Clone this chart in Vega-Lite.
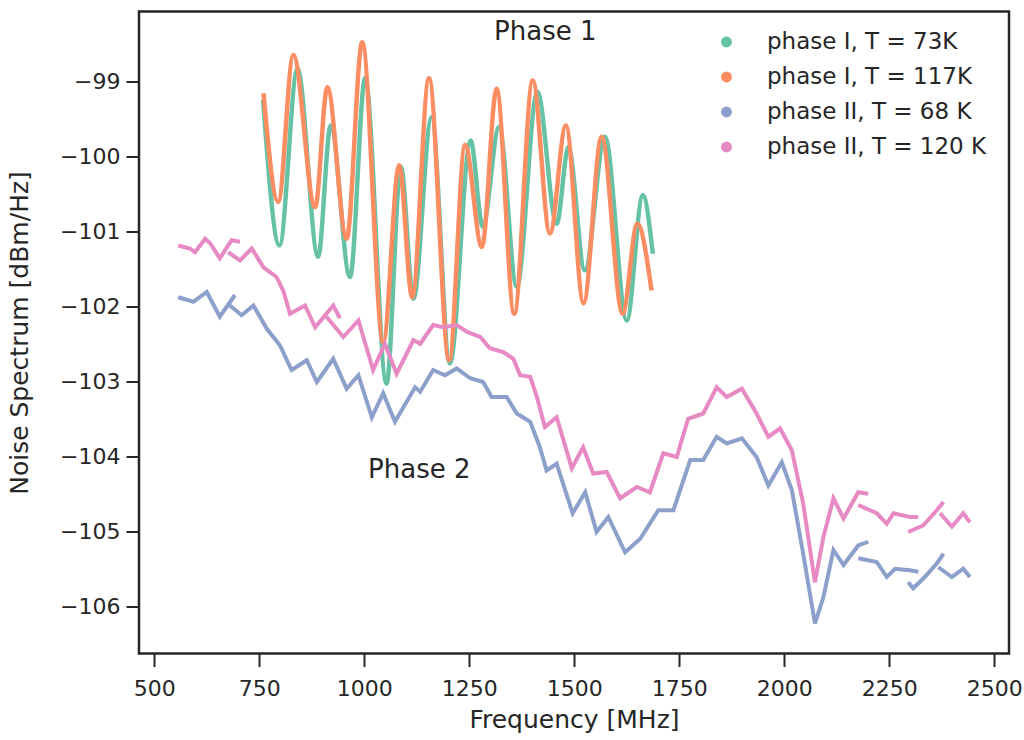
{
  "$schema": "https://vega.github.io/schema/vega-lite/v6.json",
  "width": 870,
  "height": 642,
  "autosize": {"type": "none"},
  "padding": {"left": 139, "top": 11.5, "right": 15, "bottom": 86.5},
  "background": "white",
  "config": {
    "font": "DejaVu Sans",
    "view": {"stroke": "#262626", "strokeWidth": 2.5},
    "axis": {
      "domain": false, "grid": false,
      "tickColor": "#262626", "tickWidth": 2, "tickSize": 13,
      "labelColor": "#262626", "labelFont": "DejaVu Sans", "labelFontSize": 22, "labelPadding": 6,
      "titleFont": "DejaVu Sans", "titleFontSize": 25, "titleFontWeight": "normal", "titleColor": "#262626"
    },
    "legend": {
      "orient": "none", "legendX": 576, "legendY": 19, "title": null, "padding": 0,
      "symbolType": "circle", "symbolSize": 120, "symbolStrokeWidth": 0, "symbolOpacity": 1,
      "labelFontSize": 23, "labelColor": "#262626", "labelFont": "DejaVu Sans", "labelOffset": 29, "labelLimit": 0, "rowPadding": 11
    }
  },
  "encoding": {
    "x": {"field": "freq", "type": "quantitative",
      "scale": {"domain": [463.6, 2535], "nice": false, "zero": false},
      "axis": {"values": [500, 750, 1000, 1250, 1500, 1750, 2000, 2250, 2500], "format": "d", "title": "Frequency [MHz]", "labelPadding": 12, "titlePadding": 8}},
    "y": {"field": "noise", "type": "quantitative",
      "scale": {"domain": [-106.63, -98.07], "nice": false, "zero": false},
      "axis": {"values": [-106, -105, -104, -103, -102, -101, -100, -99], "title": "Noise Spectrum [dBm/Hz]", "labelPadding": 6, "titlePadding": 27}}
  },
  "layer": [
    {
      "data": {"values": [
        {"series": "phase I, T = 73K", "seg": 0, "freq": 759, "noise": -99.25},
        {"series": "phase I, T = 73K", "seg": 0, "freq": 798, "noise": -101.19},
        {"series": "phase I, T = 73K", "seg": 0, "freq": 841, "noise": -98.83},
        {"series": "phase I, T = 73K", "seg": 0, "freq": 890, "noise": -101.34},
        {"series": "phase I, T = 73K", "seg": 0, "freq": 920, "noise": -99.59},
        {"series": "phase I, T = 73K", "seg": 0, "freq": 966, "noise": -101.61},
        {"series": "phase I, T = 73K", "seg": 0, "freq": 1002, "noise": -98.96},
        {"series": "phase I, T = 73K", "seg": 0, "freq": 1053, "noise": -103.03},
        {"series": "phase I, T = 73K", "seg": 0, "freq": 1087, "noise": -100.14},
        {"series": "phase I, T = 73K", "seg": 0, "freq": 1117, "noise": -101.9},
        {"series": "phase I, T = 73K", "seg": 0, "freq": 1160, "noise": -99.48},
        {"series": "phase I, T = 73K", "seg": 0, "freq": 1204, "noise": -102.76},
        {"series": "phase I, T = 73K", "seg": 0, "freq": 1253, "noise": -99.79},
        {"series": "phase I, T = 73K", "seg": 0, "freq": 1282, "noise": -100.94},
        {"series": "phase I, T = 73K", "seg": 0, "freq": 1321, "noise": -99.61},
        {"series": "phase I, T = 73K", "seg": 0, "freq": 1363, "noise": -101.74},
        {"series": "phase I, T = 73K", "seg": 0, "freq": 1412, "noise": -99.14},
        {"series": "phase I, T = 73K", "seg": 0, "freq": 1458, "noise": -100.9},
        {"series": "phase I, T = 73K", "seg": 0, "freq": 1486, "noise": -99.88},
        {"series": "phase I, T = 73K", "seg": 0, "freq": 1525, "noise": -101.52},
        {"series": "phase I, T = 73K", "seg": 0, "freq": 1573, "noise": -99.74},
        {"series": "phase I, T = 73K", "seg": 0, "freq": 1625, "noise": -102.19},
        {"series": "phase I, T = 73K", "seg": 0, "freq": 1663, "noise": -100.52},
        {"series": "phase I, T = 73K", "seg": 0, "freq": 1687, "noise": -101.3},
        {"series": "phase I, T = 117K", "seg": 0, "freq": 760, "noise": -99.16},
        {"series": "phase I, T = 117K", "seg": 0, "freq": 795, "noise": -100.61},
        {"series": "phase I, T = 117K", "seg": 0, "freq": 831, "noise": -98.65},
        {"series": "phase I, T = 117K", "seg": 0, "freq": 883, "noise": -100.68},
        {"series": "phase I, T = 117K", "seg": 0, "freq": 912, "noise": -99.08},
        {"series": "phase I, T = 117K", "seg": 0, "freq": 958, "noise": -101.1},
        {"series": "phase I, T = 117K", "seg": 0, "freq": 995, "noise": -98.48},
        {"series": "phase I, T = 117K", "seg": 0, "freq": 1045, "noise": -102.48},
        {"series": "phase I, T = 117K", "seg": 0, "freq": 1083, "noise": -100.12},
        {"series": "phase I, T = 117K", "seg": 0, "freq": 1114, "noise": -101.88},
        {"series": "phase I, T = 117K", "seg": 0, "freq": 1154, "noise": -98.96},
        {"series": "phase I, T = 117K", "seg": 0, "freq": 1202, "noise": -102.72},
        {"series": "phase I, T = 117K", "seg": 0, "freq": 1240, "noise": -99.85},
        {"series": "phase I, T = 117K", "seg": 0, "freq": 1280, "noise": -101.21},
        {"series": "phase I, T = 117K", "seg": 0, "freq": 1315, "noise": -99.1},
        {"series": "phase I, T = 117K", "seg": 0, "freq": 1357, "noise": -102.1},
        {"series": "phase I, T = 117K", "seg": 0, "freq": 1401, "noise": -98.99},
        {"series": "phase I, T = 117K", "seg": 0, "freq": 1442, "noise": -101.03},
        {"series": "phase I, T = 117K", "seg": 0, "freq": 1480, "noise": -99.59},
        {"series": "phase I, T = 117K", "seg": 0, "freq": 1522, "noise": -101.96},
        {"series": "phase I, T = 117K", "seg": 0, "freq": 1565, "noise": -99.74},
        {"series": "phase I, T = 117K", "seg": 0, "freq": 1615, "noise": -102.1},
        {"series": "phase I, T = 117K", "seg": 0, "freq": 1650, "noise": -100.9},
        {"series": "phase I, T = 117K", "seg": 0, "freq": 1684, "noise": -101.79}
      ]},
      "mark": {"type": "line", "interpolate": "monotone", "strokeWidth": 4.5},
      "encoding": {
        "stroke": {"field": "series", "type": "nominal",
          "scale": {"domain": ["phase I, T = 73K", "phase I, T = 117K", "phase II, T = 68 K", "phase II, T = 120 K"], "range": ["#66c2a5", "#fc8d62", "#8da0cb", "#e78ac3"]}},
        "detail": {"field": "seg", "type": "nominal"}
      }
    },
    {
      "data": {"values": [
        {"series": "phase II, T = 120 K", "seg": 1, "freq": 557, "noise": -101.19},
        {"series": "phase II, T = 120 K", "seg": 1, "freq": 585, "noise": -101.23},
        {"series": "phase II, T = 120 K", "seg": 1, "freq": 597, "noise": -101.28},
        {"series": "phase II, T = 120 K", "seg": 1, "freq": 621, "noise": -101.1},
        {"series": "phase II, T = 120 K", "seg": 1, "freq": 633, "noise": -101.16},
        {"series": "phase II, T = 120 K", "seg": 1, "freq": 656, "noise": -101.36},
        {"series": "phase II, T = 120 K", "seg": 1, "freq": 684, "noise": -101.12},
        {"series": "phase II, T = 120 K", "seg": 1, "freq": 704, "noise": -101.14},
        {"series": "phase II, T = 120 K", "seg": 2, "freq": 676, "noise": -101.28},
        {"series": "phase II, T = 120 K", "seg": 2, "freq": 704, "noise": -101.39},
        {"series": "phase II, T = 120 K", "seg": 2, "freq": 732, "noise": -101.23},
        {"series": "phase II, T = 120 K", "seg": 2, "freq": 760, "noise": -101.48},
        {"series": "phase II, T = 120 K", "seg": 2, "freq": 791, "noise": -101.61},
        {"series": "phase II, T = 120 K", "seg": 2, "freq": 807, "noise": -101.79},
        {"series": "phase II, T = 120 K", "seg": 2, "freq": 823, "noise": -102.1},
        {"series": "phase II, T = 120 K", "seg": 2, "freq": 859, "noise": -101.99},
        {"series": "phase II, T = 120 K", "seg": 2, "freq": 883, "noise": -102.28},
        {"series": "phase II, T = 120 K", "seg": 2, "freq": 926, "noise": -101.99},
        {"series": "phase II, T = 120 K", "seg": 2, "freq": 942, "noise": -102.16},
        {"series": "phase II, T = 120 K", "seg": 3, "freq": 910, "noise": -102.14},
        {"series": "phase II, T = 120 K", "seg": 3, "freq": 950, "noise": -102.41},
        {"series": "phase II, T = 120 K", "seg": 3, "freq": 986, "noise": -102.19},
        {"series": "phase II, T = 120 K", "seg": 3, "freq": 1021, "noise": -102.85},
        {"series": "phase II, T = 120 K", "seg": 3, "freq": 1049, "noise": -102.5},
        {"series": "phase II, T = 120 K", "seg": 3, "freq": 1077, "noise": -102.9},
        {"series": "phase II, T = 120 K", "seg": 3, "freq": 1117, "noise": -102.45},
        {"series": "phase II, T = 120 K", "seg": 3, "freq": 1133, "noise": -102.5},
        {"series": "phase II, T = 120 K", "seg": 3, "freq": 1164, "noise": -102.25},
        {"series": "phase II, T = 120 K", "seg": 3, "freq": 1188, "noise": -102.28},
        {"series": "phase II, T = 120 K", "seg": 3, "freq": 1220, "noise": -102.25},
        {"series": "phase II, T = 120 K", "seg": 3, "freq": 1244, "noise": -102.34},
        {"series": "phase II, T = 120 K", "seg": 3, "freq": 1276, "noise": -102.41},
        {"series": "phase II, T = 120 K", "seg": 3, "freq": 1299, "noise": -102.56},
        {"series": "phase II, T = 120 K", "seg": 3, "freq": 1331, "noise": -102.61},
        {"series": "phase II, T = 120 K", "seg": 3, "freq": 1355, "noise": -102.7},
        {"series": "phase II, T = 120 K", "seg": 3, "freq": 1371, "noise": -102.92},
        {"series": "phase II, T = 120 K", "seg": 3, "freq": 1395, "noise": -102.94},
        {"series": "phase II, T = 120 K", "seg": 3, "freq": 1411, "noise": -103.21},
        {"series": "phase II, T = 120 K", "seg": 3, "freq": 1430, "noise": -103.61},
        {"series": "phase II, T = 120 K", "seg": 3, "freq": 1458, "noise": -103.48},
        {"series": "phase II, T = 120 K", "seg": 3, "freq": 1494, "noise": -104.16},
        {"series": "phase II, T = 120 K", "seg": 3, "freq": 1521, "noise": -103.88},
        {"series": "phase II, T = 120 K", "seg": 3, "freq": 1545, "noise": -104.23},
        {"series": "phase II, T = 120 K", "seg": 3, "freq": 1577, "noise": -104.21},
        {"series": "phase II, T = 120 K", "seg": 3, "freq": 1609, "noise": -104.56},
        {"series": "phase II, T = 120 K", "seg": 3, "freq": 1649, "noise": -104.41},
        {"series": "phase II, T = 120 K", "seg": 3, "freq": 1680, "noise": -104.48},
        {"series": "phase II, T = 120 K", "seg": 3, "freq": 1712, "noise": -103.96},
        {"series": "phase II, T = 120 K", "seg": 3, "freq": 1744, "noise": -104.01},
        {"series": "phase II, T = 120 K", "seg": 3, "freq": 1771, "noise": -103.5},
        {"series": "phase II, T = 120 K", "seg": 3, "freq": 1807, "noise": -103.43},
        {"series": "phase II, T = 120 K", "seg": 3, "freq": 1839, "noise": -103.08},
        {"series": "phase II, T = 120 K", "seg": 3, "freq": 1863, "noise": -103.21},
        {"series": "phase II, T = 120 K", "seg": 3, "freq": 1899, "noise": -103.1},
        {"series": "phase II, T = 120 K", "seg": 3, "freq": 1934, "noise": -103.43},
        {"series": "phase II, T = 120 K", "seg": 3, "freq": 1962, "noise": -103.74},
        {"series": "phase II, T = 120 K", "seg": 3, "freq": 1990, "noise": -103.63},
        {"series": "phase II, T = 120 K", "seg": 3, "freq": 2018, "noise": -103.92},
        {"series": "phase II, T = 120 K", "seg": 3, "freq": 2045, "noise": -104.63},
        {"series": "phase II, T = 120 K", "seg": 3, "freq": 2073, "noise": -105.68},
        {"series": "phase II, T = 120 K", "seg": 3, "freq": 2093, "noise": -105.08},
        {"series": "phase II, T = 120 K", "seg": 3, "freq": 2117, "noise": -104.56},
        {"series": "phase II, T = 120 K", "seg": 3, "freq": 2141, "noise": -104.83},
        {"series": "phase II, T = 120 K", "seg": 3, "freq": 2176, "noise": -104.48},
        {"series": "phase II, T = 120 K", "seg": 3, "freq": 2200, "noise": -104.5},
        {"series": "phase II, T = 120 K", "seg": 4, "freq": 2176, "noise": -104.65},
        {"series": "phase II, T = 120 K", "seg": 4, "freq": 2220, "noise": -104.76},
        {"series": "phase II, T = 120 K", "seg": 4, "freq": 2244, "noise": -104.9},
        {"series": "phase II, T = 120 K", "seg": 4, "freq": 2260, "noise": -104.76},
        {"series": "phase II, T = 120 K", "seg": 4, "freq": 2299, "noise": -104.81},
        {"series": "phase II, T = 120 K", "seg": 4, "freq": 2319, "noise": -104.81},
        {"series": "phase II, T = 120 K", "seg": 5, "freq": 2295, "noise": -105.01},
        {"series": "phase II, T = 120 K", "seg": 5, "freq": 2331, "noise": -104.92},
        {"series": "phase II, T = 120 K", "seg": 5, "freq": 2363, "noise": -104.72},
        {"series": "phase II, T = 120 K", "seg": 5, "freq": 2379, "noise": -104.61},
        {"series": "phase II, T = 120 K", "seg": 6, "freq": 2371, "noise": -104.76},
        {"series": "phase II, T = 120 K", "seg": 6, "freq": 2399, "noise": -104.94},
        {"series": "phase II, T = 120 K", "seg": 6, "freq": 2426, "noise": -104.76},
        {"series": "phase II, T = 120 K", "seg": 6, "freq": 2442, "noise": -104.88},
        {"series": "phase II, T = 68 K", "seg": 11, "freq": 557, "noise": -101.88},
        {"series": "phase II, T = 68 K", "seg": 11, "freq": 593, "noise": -101.94},
        {"series": "phase II, T = 68 K", "seg": 11, "freq": 625, "noise": -101.81},
        {"series": "phase II, T = 68 K", "seg": 11, "freq": 656, "noise": -102.14},
        {"series": "phase II, T = 68 K", "seg": 11, "freq": 692, "noise": -101.85},
        {"series": "phase II, T = 68 K", "seg": 12, "freq": 680, "noise": -101.99},
        {"series": "phase II, T = 68 K", "seg": 12, "freq": 708, "noise": -102.12},
        {"series": "phase II, T = 68 K", "seg": 12, "freq": 736, "noise": -101.99},
        {"series": "phase II, T = 68 K", "seg": 12, "freq": 768, "noise": -102.3},
        {"series": "phase II, T = 68 K", "seg": 12, "freq": 799, "noise": -102.52},
        {"series": "phase II, T = 68 K", "seg": 12, "freq": 827, "noise": -102.85},
        {"series": "phase II, T = 68 K", "seg": 12, "freq": 863, "noise": -102.72},
        {"series": "phase II, T = 68 K", "seg": 12, "freq": 887, "noise": -103.01},
        {"series": "phase II, T = 68 K", "seg": 12, "freq": 926, "noise": -102.7},
        {"series": "phase II, T = 68 K", "seg": 12, "freq": 958, "noise": -103.1},
        {"series": "phase II, T = 68 K", "seg": 12, "freq": 986, "noise": -102.92},
        {"series": "phase II, T = 68 K", "seg": 12, "freq": 1018, "noise": -103.48},
        {"series": "phase II, T = 68 K", "seg": 12, "freq": 1045, "noise": -103.16},
        {"series": "phase II, T = 68 K", "seg": 12, "freq": 1073, "noise": -103.54},
        {"series": "phase II, T = 68 K", "seg": 12, "freq": 1121, "noise": -103.08},
        {"series": "phase II, T = 68 K", "seg": 12, "freq": 1133, "noise": -103.14},
        {"series": "phase II, T = 68 K", "seg": 12, "freq": 1164, "noise": -102.85},
        {"series": "phase II, T = 68 K", "seg": 12, "freq": 1192, "noise": -102.92},
        {"series": "phase II, T = 68 K", "seg": 12, "freq": 1220, "noise": -102.83},
        {"series": "phase II, T = 68 K", "seg": 12, "freq": 1252, "noise": -102.96},
        {"series": "phase II, T = 68 K", "seg": 12, "freq": 1283, "noise": -103.01},
        {"series": "phase II, T = 68 K", "seg": 12, "freq": 1303, "noise": -103.21},
        {"series": "phase II, T = 68 K", "seg": 12, "freq": 1339, "noise": -103.21},
        {"series": "phase II, T = 68 K", "seg": 12, "freq": 1363, "noise": -103.43},
        {"series": "phase II, T = 68 K", "seg": 12, "freq": 1395, "noise": -103.54},
        {"series": "phase II, T = 68 K", "seg": 12, "freq": 1418, "noise": -103.88},
        {"series": "phase II, T = 68 K", "seg": 12, "freq": 1434, "noise": -104.19},
        {"series": "phase II, T = 68 K", "seg": 12, "freq": 1458, "noise": -104.1},
        {"series": "phase II, T = 68 K", "seg": 12, "freq": 1496, "noise": -104.76},
        {"series": "phase II, T = 68 K", "seg": 12, "freq": 1526, "noise": -104.48},
        {"series": "phase II, T = 68 K", "seg": 12, "freq": 1553, "noise": -105.01},
        {"series": "phase II, T = 68 K", "seg": 12, "freq": 1581, "noise": -104.81},
        {"series": "phase II, T = 68 K", "seg": 12, "freq": 1621, "noise": -105.28},
        {"series": "phase II, T = 68 K", "seg": 12, "freq": 1657, "noise": -105.1},
        {"series": "phase II, T = 68 K", "seg": 12, "freq": 1700, "noise": -104.72},
        {"series": "phase II, T = 68 K", "seg": 12, "freq": 1736, "noise": -104.72},
        {"series": "phase II, T = 68 K", "seg": 12, "freq": 1776, "noise": -104.05},
        {"series": "phase II, T = 68 K", "seg": 12, "freq": 1807, "noise": -104.05},
        {"series": "phase II, T = 68 K", "seg": 12, "freq": 1839, "noise": -103.74},
        {"series": "phase II, T = 68 K", "seg": 12, "freq": 1863, "noise": -103.83},
        {"series": "phase II, T = 68 K", "seg": 12, "freq": 1899, "noise": -103.76},
        {"series": "phase II, T = 68 K", "seg": 12, "freq": 1934, "noise": -104.01},
        {"series": "phase II, T = 68 K", "seg": 12, "freq": 1962, "noise": -104.39},
        {"series": "phase II, T = 68 K", "seg": 12, "freq": 1994, "noise": -104.08},
        {"series": "phase II, T = 68 K", "seg": 12, "freq": 2018, "noise": -104.45},
        {"series": "phase II, T = 68 K", "seg": 12, "freq": 2045, "noise": -105.3},
        {"series": "phase II, T = 68 K", "seg": 12, "freq": 2073, "noise": -106.23},
        {"series": "phase II, T = 68 K", "seg": 12, "freq": 2093, "noise": -105.88},
        {"series": "phase II, T = 68 K", "seg": 12, "freq": 2117, "noise": -105.25},
        {"series": "phase II, T = 68 K", "seg": 12, "freq": 2141, "noise": -105.45},
        {"series": "phase II, T = 68 K", "seg": 12, "freq": 2176, "noise": -105.19},
        {"series": "phase II, T = 68 K", "seg": 12, "freq": 2200, "noise": -105.14},
        {"series": "phase II, T = 68 K", "seg": 13, "freq": 2176, "noise": -105.36},
        {"series": "phase II, T = 68 K", "seg": 13, "freq": 2220, "noise": -105.41},
        {"series": "phase II, T = 68 K", "seg": 13, "freq": 2244, "noise": -105.61},
        {"series": "phase II, T = 68 K", "seg": 13, "freq": 2264, "noise": -105.5},
        {"series": "phase II, T = 68 K", "seg": 13, "freq": 2299, "noise": -105.52},
        {"series": "phase II, T = 68 K", "seg": 13, "freq": 2319, "noise": -105.54},
        {"series": "phase II, T = 68 K", "seg": 14, "freq": 2295, "noise": -105.68},
        {"series": "phase II, T = 68 K", "seg": 14, "freq": 2307, "noise": -105.76},
        {"series": "phase II, T = 68 K", "seg": 14, "freq": 2331, "noise": -105.63},
        {"series": "phase II, T = 68 K", "seg": 14, "freq": 2363, "noise": -105.43},
        {"series": "phase II, T = 68 K", "seg": 14, "freq": 2379, "noise": -105.3},
        {"series": "phase II, T = 68 K", "seg": 15, "freq": 2367, "noise": -105.48},
        {"series": "phase II, T = 68 K", "seg": 15, "freq": 2399, "noise": -105.61},
        {"series": "phase II, T = 68 K", "seg": 15, "freq": 2426, "noise": -105.5},
        {"series": "phase II, T = 68 K", "seg": 15, "freq": 2442, "noise": -105.61}
      ]},
      "mark": {"type": "line", "interpolate": "linear", "strokeWidth": 4},
      "encoding": {
        "stroke": {"field": "series", "type": "nominal",
          "scale": {"domain": ["phase I, T = 73K", "phase I, T = 117K", "phase II, T = 68 K", "phase II, T = 120 K"], "range": ["#66c2a5", "#fc8d62", "#8da0cb", "#e78ac3"]}},
        "detail": {"field": "seg", "type": "nominal"}
      }
    },
    {
      "data": {"values": [
        {"series": "phase I, T = 73K", "freq": 3000, "noise": -100},
        {"series": "phase I, T = 117K", "freq": 3000, "noise": -100},
        {"series": "phase II, T = 68 K", "freq": 3000, "noise": -100},
        {"series": "phase II, T = 120 K", "freq": 3000, "noise": -100}
      ]},
      "mark": {"type": "point", "filled": true, "clip": true, "size": 120, "opacity": 1, "strokeWidth": 0},
      "encoding": {
        "fill": {"field": "series", "type": "nominal",
          "scale": {"domain": ["phase I, T = 73K", "phase I, T = 117K", "phase II, T = 68 K", "phase II, T = 120 K"], "range": ["#66c2a5", "#fc8d62", "#8da0cb", "#e78ac3"]}}
      }
    },
    {
      "data": {"values": [
        {"label": "Phase 1", "freq": 1431, "noise": -98.444},
        {"label": "Phase 2", "freq": 1131, "noise": -104.29}
      ]},
      "mark": {"type": "text", "align": "center", "baseline": "alphabetic", "fontSize": 26, "font": "DejaVu Sans", "color": "#262626"},
      "encoding": {"text": {"field": "label", "type": "nominal"}}
    }
  ]
}
